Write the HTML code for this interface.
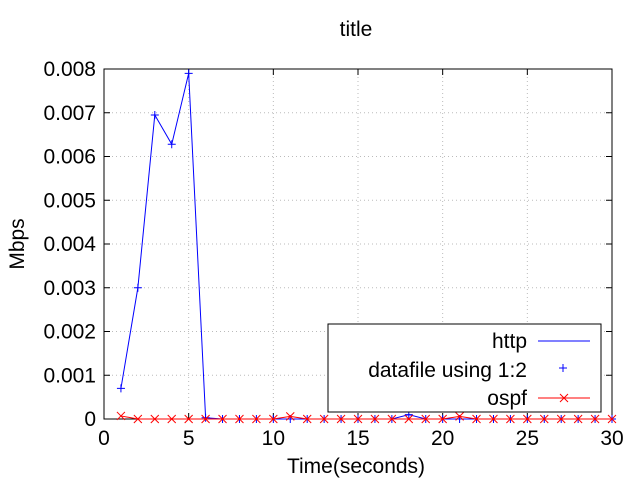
<!DOCTYPE html>
<html><head><meta charset="utf-8"><style>
body{margin:0;background:#fff;}
svg{font-family:"Liberation Sans",sans-serif;}
</style></head><body>
<svg id="chart" width="640" height="480">
<text x="356" y="36" font-size="21" text-anchor="middle">title</text>
<text x="356" y="473" font-size="21" text-anchor="middle">Time(seconds)</text>
<text transform="translate(24,244) rotate(-90)" font-size="21" text-anchor="middle">Mbps</text>
<g id="grid"></g>
<g id="axes"></g>
<g id="series"></g>
<g>
<rect x="328" y="324" width="273" height="88" fill="#fff" stroke="#000" stroke-width="1"/>
<text x="527" y="348" font-size="21" text-anchor="end">http</text>
<line x1="538" y1="341" x2="590" y2="341" stroke="#0000ff"/>
<text x="527" y="377" font-size="21" text-anchor="end">datafile using 1:2</text>
<path d="M559,368h8M563,364v8" stroke="#0000ff"/>
<text x="527" y="405" font-size="21" text-anchor="end">ospf</text>
<line x1="538" y1="398" x2="590" y2="398" stroke="#ff0000"/>
<path d="M560,394l8,8M568,394l-8,8" stroke="#ff0000"/>
</g>
</svg>
<script>
const xs=[1,2,3,4,5,6,7,8,9,10,11,12,13,14,15,16,17,18,19,20,21,22,23,24,25,26,27,28,29,30];
const httpVals=[0.0007,0.003,0.00695,0.00628,0.0079,0.00003,0,0,0,0,0,0,0,0,0,0,0,0.0001,0,0,0,0,0,0,0,0,0,0,0,0];
const ospfVals=[0.00007,0,0,0,0,0,0,0,0,0,0.00006,0,0,0,0,0,0,0,0,0,0.00006,0,0,0,0,0,0,0,0,0];
const xTicks=[0,5,10,15,20,25,30];
const yTicks=[0,0.001,0.002,0.003,0.004,0.005,0.006,0.007,0.008];
const yLabels=["0","0.001","0.002","0.003","0.004","0.005","0.006","0.007","0.008"];
const L=104,R=612,T=69,B=419;
const sx=v=>L+(v-0)/30*(R-L);
const sy=v=>B-v/0.008*(B-T);
const NS="http://www.w3.org/2000/svg";
function mk(tag,attrs,parent,txt){const e=document.createElementNS(NS,tag);for(const k in attrs)e.setAttribute(k,attrs[k]);if(txt!==undefined)e.textContent=txt;parent.appendChild(e);return e;}
const grid=document.getElementById('grid'),axes=document.getElementById('axes'),ser=document.getElementById('series');
xTicks.forEach(t=>{
  const x=sx(t);
  if(t>0&&t<30){const g=mk('line',{x1:x,y1:T,x2:x,y2:B,stroke:'#bbb','stroke-dasharray':'1,3'},grid);}
  mk('line',{x1:x,y1:B,x2:x,y2:B-6,stroke:'#000'},axes);
  mk('line',{x1:x,y1:T,x2:x,y2:T+6,stroke:'#000'},axes);
  const l=mk('text',{x:x,y:B+26,'font-size':21,'text-anchor':'middle'},axes,String(t));
  
  
});
yTicks.forEach((t,i)=>{
  const y=sy(t);
  if(i>0&&i<yTicks.length-1){const g=mk('line',{x1:L,y1:y,x2:R,y2:y,stroke:'#bbb','stroke-dasharray':'1,3'},grid);}
  mk('line',{x1:L,y1:y,x2:L+6,y2:y,stroke:'#000'},axes);
  mk('line',{x1:R,y1:y,x2:R-6,y2:y,stroke:'#000'},axes);
  const l=mk('text',{x:L-8,y:y+7,'font-size':21,'text-anchor':'end'},axes,yLabels[i]);
  
  
});
mk('rect',{x:L,y:T,width:R-L,height:B-T,fill:'none',stroke:'#000'},axes);
function series(vals,color,name,mark){
  const p=mk('polyline',{points:xs.map((x,i)=>sx(x)+','+sy(vals[i])).join(' '),fill:'none',stroke:color},ser);
  
  
  xs.forEach((x,i)=>{
    const X=sx(x),Y=sy(vals[i]);
    const d=mark==='+'?`M${X-4},${Y}h8M${X},${Y-4}v8`:`M${X-4},${Y-4}l8,8M${X+4},${Y-4}l-8,8`;
    const m=mk('path',{d:d,stroke:color},ser);
    
    
  });
}
series(httpVals,'#0000ff','http','+');
series(ospfVals,'#ff0000','ospf','x');
</script>
</body></html>
